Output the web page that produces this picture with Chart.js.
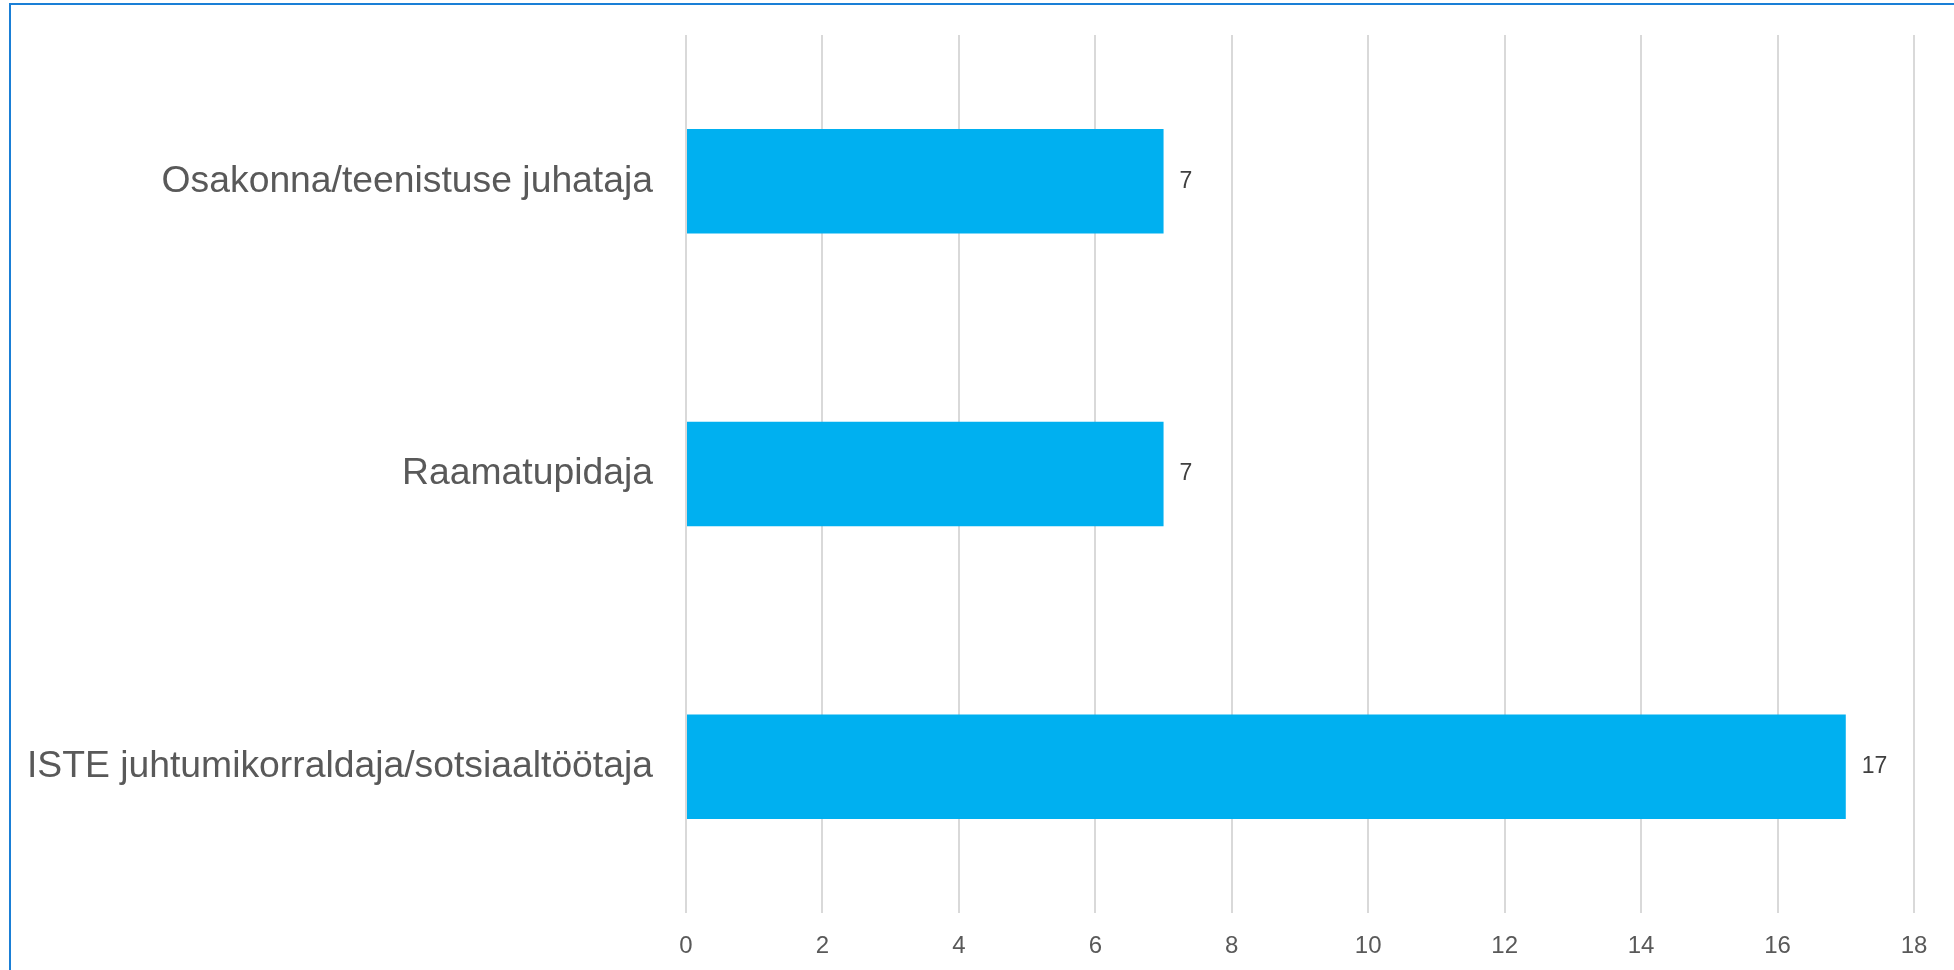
<!DOCTYPE html>
<html>
<head>
<meta charset="utf-8">
<script src="https://cdn.jsdelivr.net/npm/chart.js@4.4.1/dist/chart.umd.min.js"></script>
<style>
  html, body { margin: 0; padding: 0; background: #fff; overflow: hidden; }
  #wrap { position: absolute; left: 0; top: 0; width: 1954px; height: 970px; }
  #frame { position: absolute; left: 9px; top: 3px; width: 2100px; height: 1100px;
           border: 2px solid #1a7fd6; box-sizing: border-box; pointer-events: none; }
  canvas { position: absolute; left: 0; top: 0; }
</style>
</head>
<body>
<div id="wrap">
  <canvas id="c" width="1954" height="970"></canvas>
  <div id="frame"></div>
</div>
<script>
const categories = ["Osakonna/teenistuse juhataja", "Raamatupidaja", "ISTE juhtumikorraldaja/sotsiaaltöötaja"];
const values = [7, 7, 17];
const axisMin = 0;
const axisMax = 18;
const axisStep = 2;

const FONT = "'Liberation Sans', Arial, sans-serif";

const valueLabels = {
  id: 'valueLabels',
  afterDatasetsDraw(chart) {
    const ctx = chart.ctx;
    const meta = chart.getDatasetMeta(0);
    ctx.save();
    ctx.font = "23px " + FONT;
    ctx.fillStyle = "#404040";
    ctx.textAlign = "left";
    ctx.textBaseline = "middle";
    meta.data.forEach((bar, i) => {
      ctx.fillText(String(values[i]), bar.x + 16, bar.y);
    });
    ctx.restore();
  }
};

new Chart(document.getElementById('c'), {
  type: 'bar',
  data: {
    labels: categories,
    datasets: [{
      data: values,
      backgroundColor: '#00b0f0',
      borderWidth: 0,
      categoryPercentage: 1,
      barPercentage: 0.357
    }]
  },
  options: {
    indexAxis: 'y',
    responsive: false,
    animation: false,
    devicePixelRatio: 1,
    layout: { padding: { top: 35, right: 40, bottom: 0, left: 0 } },
    plugins: { legend: { display: false }, tooltip: { enabled: false } },
    scales: {
      x: {
        min: axisMin, max: axisMax,
        grid: { color: '#d9d9d9', lineWidth: 2, drawTicks: false },
        border: { display: false },
        ticks: { stepSize: axisStep, color: '#595959', font: { family: FONT, size: 24 }, padding: 19 },
        afterFit(scale) { scale.height = 57; scale.paddingLeft = 0; scale.paddingRight = 0; }
      },
      y: {
        grid: { display: false, drawTicks: false },
        border: { display: false },
        ticks: { color: '#595959', font: { family: FONT, size: 37.3 }, padding: 33 },
        afterFit(scale) { scale.width = 686; scale.paddingTop = 0; scale.paddingBottom = 0; }
      }
    }
  },
  plugins: [valueLabels]
});
</script>
</body>
</html>
